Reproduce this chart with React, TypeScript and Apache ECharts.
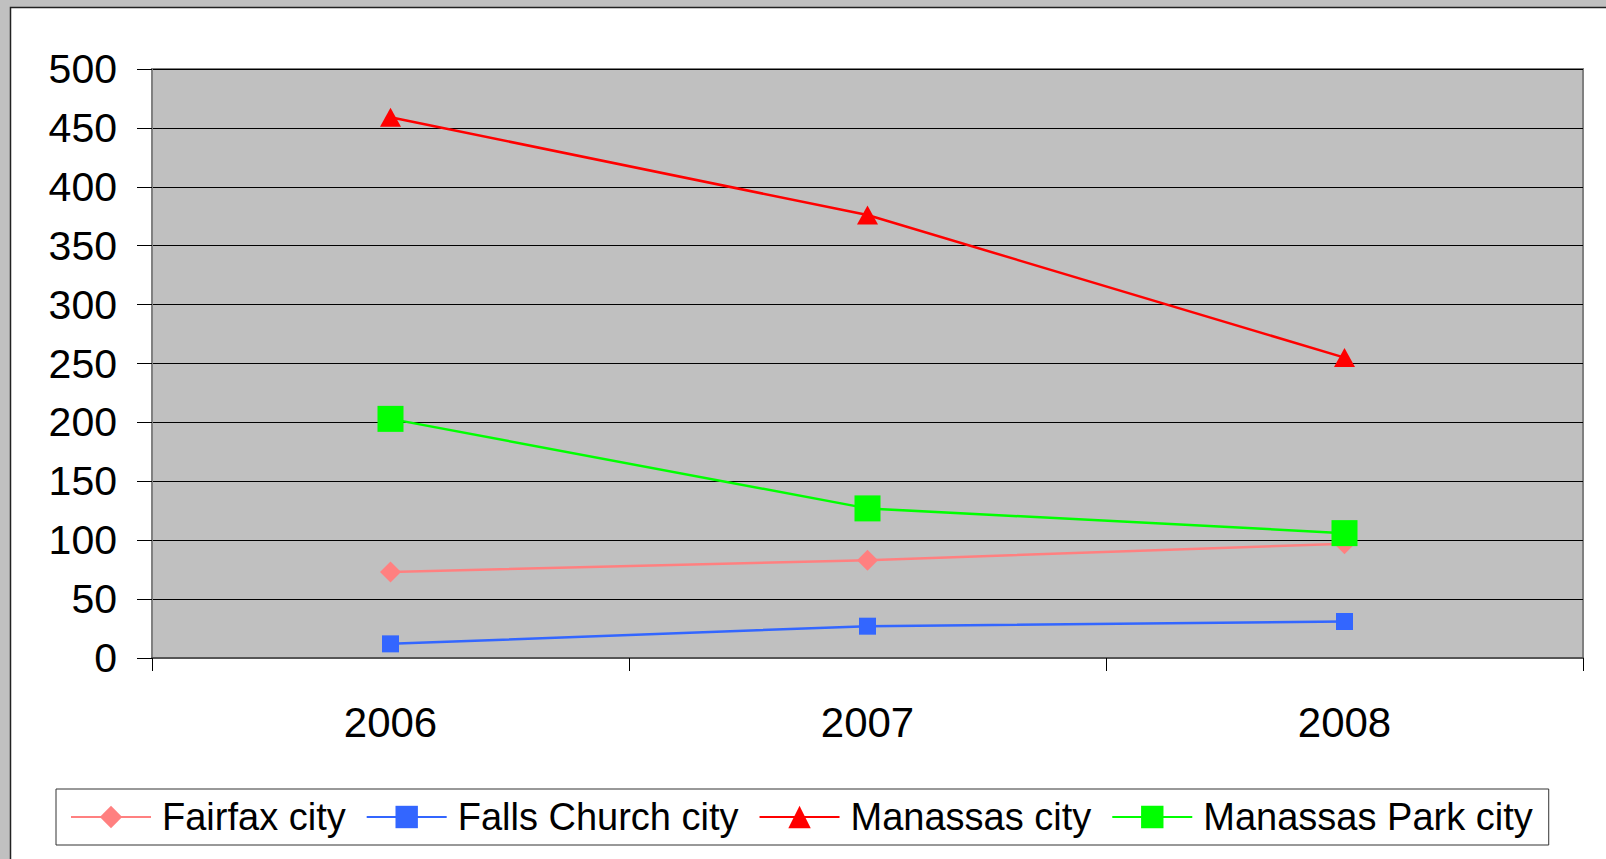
import React, { useEffect, useRef } from "react";
import * as echarts from "echarts";

const categories = ["2006", "2007", "2008"];
const fairfax = [73, 83, 97];
const fallsChurch = [12, 27, 31];
const manassas = [459, 376, 255];
const manassasPark = [203, 127, 106];

const FONT = '"Liberation Sans", Arial, sans-serif';

export default function App() {
  const ref = useRef<HTMLDivElement>(null);
  useEffect(() => {
    document.body.style.margin = "0";
    const chart = echarts.init(ref.current!, null, { renderer: "svg" });
    chart.setOption({
      animation: false,
      backgroundColor: "#C0C0C0",
      textStyle: { fontFamily: FONT },
      graphic: [
        {
          type: "rect",
          z: -100,
          shape: { x: 10.5, y: 7.5, width: 1700, height: 1000 },
          style: { fill: "#FFFFFF", stroke: "#222222", lineWidth: 1.5 },
        },
      ],
      grid: {
        left: 152,
        top: 69,
        right: 23,
        bottom: 201,
        show: true,
        backgroundColor: "#C0C0C0",
        borderColor: "#808080",
        borderWidth: 2,
      },
      xAxis: {
        type: "category",
        data: categories,
        boundaryGap: true,
        axisLine: { show: true, lineStyle: { color: "#555555", width: 2 } },
        axisTick: { show: true, length: 13, alignWithLabel: false, lineStyle: { color: "#000", width: 1 } },
        axisLabel: { fontSize: 42, color: "#000", margin: 43, fontFamily: FONT },
      },
      yAxis: {
        type: "value",
        min: 0,
        max: 500,
        interval: 50,
        axisLine: { show: true, lineStyle: { color: "#808080", width: 2 } },
        axisTick: { show: true, length: 15, lineStyle: { color: "#000", width: 1 } },
        axisLabel: { fontSize: 41, color: "#000", margin: 35, fontFamily: FONT },
        splitLine: { show: true, lineStyle: { color: "#000", width: 1 } },
      },
      legend: {
        left: 56,
        top: 789,
        orient: "horizontal",
        padding: [9, 16, 9, 14],
        borderColor: "#333",
        borderWidth: 1,
        backgroundColor: "#FFFFFF",
        itemWidth: 80,
        itemHeight: 28,
        itemGap: 20,
        textStyle: { fontSize: 38, color: "#000", fontFamily: FONT, padding: [0, 0, 0, 6] },
        data: ["Fairfax city", "Falls Church city", "Manassas city", "Manassas Park city"],
      },
      series: [
        {
          name: "Fairfax city",
          type: "line",
          data: fairfax,
          symbol: "diamond",
          symbolSize: 21,
          itemStyle: { color: "#FF8080" },
          lineStyle: { color: "#FF8080", width: 2.5 },
        },
        {
          name: "Falls Church city",
          type: "line",
          data: fallsChurch,
          symbol: "rect",
          symbolSize: 17,
          itemStyle: { color: "#3366FF" },
          lineStyle: { color: "#3366FF", width: 2.5 },
        },
        {
          name: "Manassas city",
          type: "line",
          data: manassas,
          symbol: "triangle",
          symbolSize: [21, 19],
          itemStyle: { color: "#FF0000" },
          lineStyle: { color: "#FF0000", width: 2.5 },
        },
        {
          name: "Manassas Park city",
          type: "line",
          data: manassasPark,
          symbol: "rect",
          symbolSize: 26,
          itemStyle: { color: "#00FF00" },
          lineStyle: { color: "#00FF00", width: 2.5 },
        },
      ],
    });
    return () => chart.dispose();
  }, []);
  return <div ref={ref} style={{ width: 1606, height: 859 }} />;
}
